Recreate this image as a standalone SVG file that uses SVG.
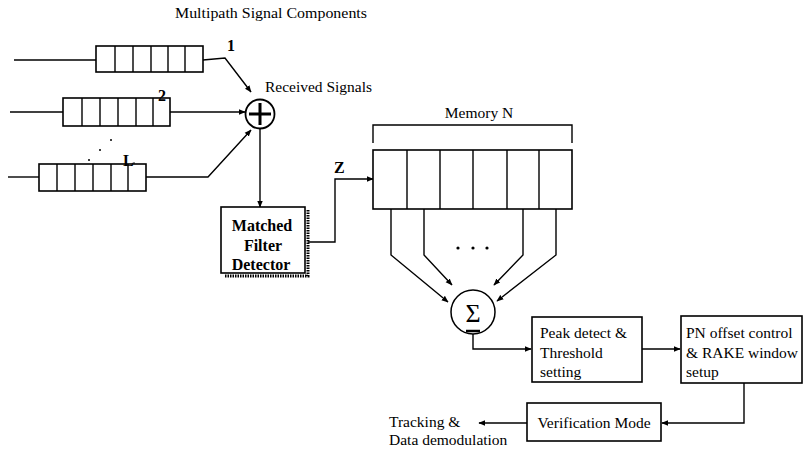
<svg xmlns="http://www.w3.org/2000/svg" width="804" height="450" viewBox="0 0 804 450">
<defs>
<style>
text{font-family:"Liberation Serif","Times New Roman",serif;fill:#000}
.t{font-size:15.5px}
.m{font-size:15.5px}
.b{font-weight:bold;font-size:16px}
.ln{fill:none;stroke:#000;stroke-width:1.4}
.box{fill:#fff;stroke:#000;stroke-width:1.6}
</style>
<marker id="ar" viewBox="0 0 10 10" refX="9" refY="5" markerWidth="7" markerHeight="7" orient="auto" markerUnits="userSpaceOnUse">
<path d="M0,1 L10,5 L0,9 z" fill="#000"/>
</marker>
</defs>
<rect width="804" height="450" fill="#fff"/>
<text class="t" x="175" y="18" textLength="192" lengthAdjust="spacingAndGlyphs">Multipath Signal Components</text>

<g id="connectors">
<polyline class="ln" points="14,60 96,60"/>
<polyline class="ln" points="203,60 225,58 251,92" marker-end="url(#ar)"/>
<polyline class="ln" points="10,112 63,112"/>
<polyline class="ln" points="170,112 245,112" marker-end="url(#ar)"/>
<polyline class="ln" points="8,177 39,177"/>
<polyline class="ln" points="146,177 208,177 251,130" marker-end="url(#ar)"/>
<polyline class="ln" points="260,128 260,207" marker-end="url(#ar)"/>
<polyline class="ln" points="308,242 335,242 335,179 373,179" marker-end="url(#ar)"/>
<polyline class="ln" points="391,209 391,255 448,302" marker-end="url(#ar)"/>
<polyline class="ln" points="424,209 424,255 452,285" marker-end="url(#ar)"/>
<polyline class="ln" points="523,209 523,255 494,285" marker-end="url(#ar)"/>
<polyline class="ln" points="556,209 556,255 497,301" marker-end="url(#ar)"/>
<polyline class="ln" points="473,334 473,349 531,349" marker-end="url(#ar)"/>
<polyline class="ln" points="642,349 680,349" marker-end="url(#ar)"/>
<polyline class="ln" points="744,383 744,423 662,423" marker-end="url(#ar)"/>
<polyline class="ln" points="527,423 479,423" marker-end="url(#ar)"/>
</g>

<g id="reg1">
<rect class="box" x="96" y="46" width="107" height="26"/>
<path class="ln" d="M115,46V72M133,46V72M151,46V72M168,46V72M185,46V72"/>
<text class="b" x="227" y="51">1</text>
</g>
<g id="reg2">
<rect class="box" x="63" y="98" width="107" height="28"/>
<path class="ln" d="M82,98V126M100,98V126M118,98V126M136,98V126M153,98V126"/>
<text class="b" x="158" y="101">2</text>
</g>
<g id="regL">
<rect class="box" x="39" y="164" width="107" height="27"/>
<path class="ln" d="M57,164V191M75,164V191M93,164V191M111,164V191M128,164V191"/>
<text class="b" x="123" y="166">L</text>
<circle cx="111" cy="140" r="1" fill="#000"/>
<circle cx="100" cy="150" r="1" fill="#000"/>
<circle cx="89" cy="160" r="1" fill="#000"/>
<circle cx="134" cy="163" r="0.8" fill="#000"/>
</g>

<g id="adder">
<circle cx="260" cy="114" r="14.5" fill="#fff" stroke="#000" stroke-width="1.8"/>
<path d="M249,114H271M260,103V125" stroke="#000" stroke-width="3" fill="none"/>
<text class="t" x="265" y="92" textLength="107" lengthAdjust="spacingAndGlyphs">Received Signals</text>
</g>

<g id="matched">
<polyline points="308,210 308,276 224,276" fill="none" stroke="#000" stroke-width="3" stroke-dasharray="1.5,1"/>
<rect class="box" x="221" y="207" width="84" height="66"/>
<text class="b" x="262" y="231" text-anchor="middle">Matched</text>
<text class="b" x="263" y="251" text-anchor="middle">Filter</text>
<text class="b" x="261" y="270" text-anchor="middle">Detector</text>
</g>
<text class="b" x="334" y="173">Z</text>

<g id="memory">
<path class="ln" d="M373,143V125H572V143"/>
<text class="t" x="479" y="118" text-anchor="middle">Memory N</text>
<rect class="box" x="373" y="150" width="199" height="59"/>
<path class="ln" d="M407,150V209M440,150V209M473,150V209M507,150V209M539,150V209"/>
<circle cx="458" cy="248" r="1.6" fill="#000"/>
<circle cx="473" cy="248" r="1.6" fill="#000"/>
<circle cx="487" cy="248" r="1.6" fill="#000"/>
</g>

<g id="sum">
<circle cx="473" cy="312" r="22" fill="#fff" stroke="#000" stroke-width="1.5"/>
<text x="473" y="322" text-anchor="middle" style="font-size:26px">Σ</text>
<path d="M466,331H480" stroke="#000" stroke-width="2.5"/>
</g>

<g id="peak">
<rect class="box" x="532" y="317" width="110" height="65"/>
<text class="m" x="540" y="338">Peak detect &amp;</text>
<text class="m" x="540" y="358">Threshold</text>
<text class="m" x="540" y="377">setting</text>
</g>

<g id="pn">
<rect class="box" x="681" y="316" width="121" height="67"/>
<text class="m" x="686" y="338">PN offset control</text>
<text class="m" x="686" y="358">&amp; RAKE window</text>
<text class="m" x="686" y="377">setup</text>
</g>

<g id="verify">
<rect class="box" x="527" y="403" width="134" height="38"/>
<text class="m" x="594" y="428" text-anchor="middle">Verification Mode</text>
</g>

<g id="tracking">
<text class="m" x="389" y="427">Tracking &amp;</text>
<text class="m" x="389" y="445">Data demodulation</text>
</g>
</svg>
